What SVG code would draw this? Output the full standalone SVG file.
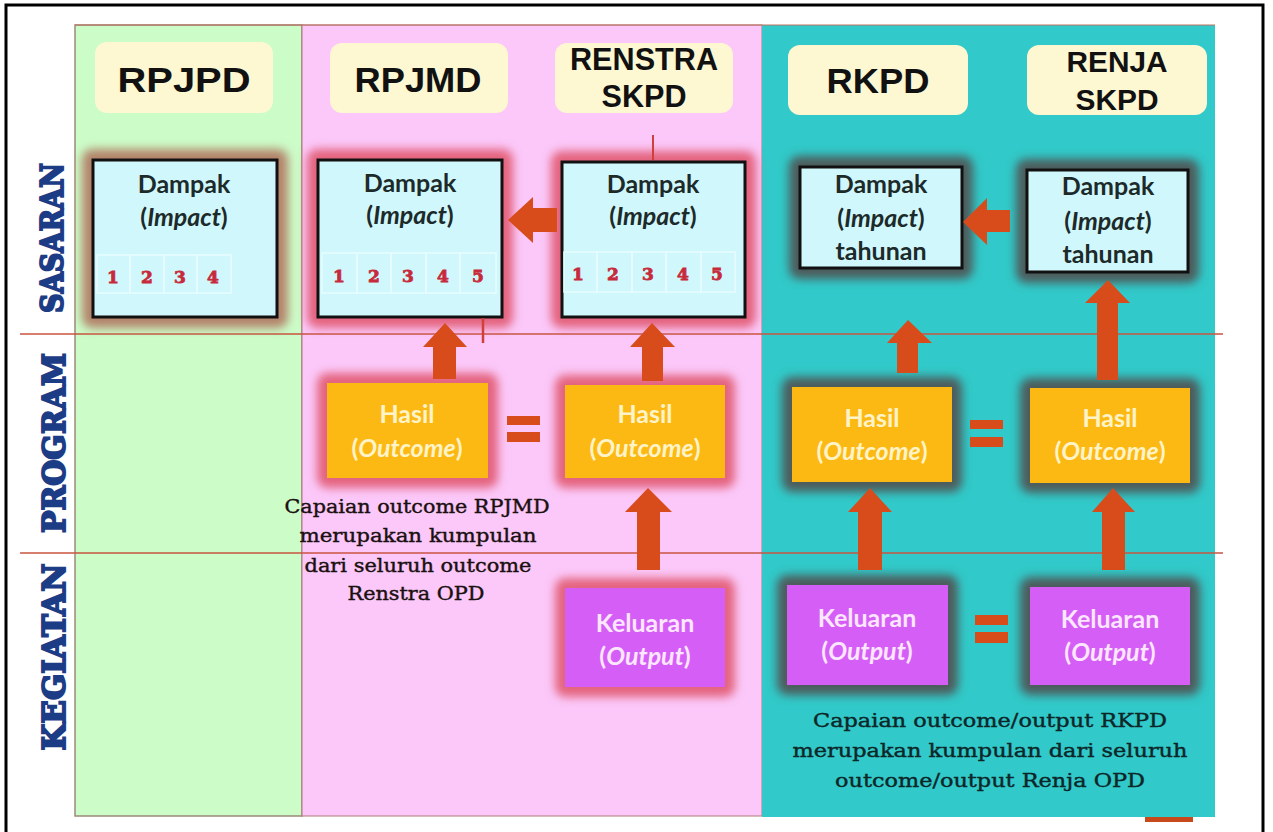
<svg xmlns="http://www.w3.org/2000/svg" width="1273" height="832" viewBox="0 0 1273 832">
<defs>
<style>
.hdr{fill:#fdf7d2}
.htx{font-family:"Liberation Sans",Arial,sans-serif;font-weight:bold;fill:#111;text-anchor:middle}
.row{font-family:"DejaVu Serif","Liberation Serif",serif;font-weight:bold;fill:#1d3c86;stroke:#1d3c86;stroke-width:2;text-anchor:middle}
.dmp{fill:#d0f8fc;stroke:#111;stroke-width:3}
.btx{font-family:Lato,"Open Sans",sans-serif;font-weight:bold;text-anchor:middle}
.dk{fill:#1d2a2a;font-size:25px}
.wt{fill:#fff3c8;font-size:25px}
.kt{fill:#fde6ff;font-size:25px}
.num{font-family:"DejaVu Serif",serif;font-weight:bold;font-size:17px;fill:#c72a3a;stroke:#c72a3a;stroke-width:0.8;text-anchor:middle}
.hsl{fill:#fdb913}
.kel{fill:#d55ff6}
.arr{fill:#d84c1c}
.cap{font-family:"DejaVu Serif",serif;font-size:19px;text-anchor:middle;stroke-width:0.4}
.gp{fill:#e4647e;filter:url(#blur)}
.gg{fill:#4d5b5b;filter:url(#blur)}
.gb{fill:#b3846a;filter:url(#blur)}
.cell{fill:none;stroke:#e6fcff;stroke-width:1.5}
</style>
<filter id="blur" x="-30%" y="-30%" width="160%" height="160%"><feGaussianBlur stdDeviation="5"/></filter>
</defs>
<rect width="1273" height="832" fill="#fff"/>
<rect x="6" y="5" width="1257" height="835" fill="none" stroke="#000" stroke-width="3"/>

<g id="panels">
<rect x="75" y="25" width="227" height="791" fill="#ccfcc8" stroke="#9a8a7a" stroke-width="1.5"/>
<rect x="302" y="25" width="460" height="791" fill="#fbc8f9" stroke="#b07a7a" stroke-width="1"/>
<rect x="762" y="25" width="453" height="792" fill="#31c9c9"/>
<line x1="75" y1="25" x2="1215" y2="25" stroke="#c07060" stroke-width="1"/>
<rect x="1145" y="817" width="48" height="5" fill="#c84a1c"/>
<line x1="20" y1="334" x2="1223" y2="334" stroke="#c8553f" stroke-width="1.3"/>
<line x1="20" y1="553" x2="1223" y2="553" stroke="#c8553f" stroke-width="1.3"/>
</g>

<g id="rowlabels">
<text class="row" font-size="32" textLength="150" lengthAdjust="spacingAndGlyphs" transform="translate(63,238) rotate(-90)">SASARAN</text>
<text class="row" font-size="32" textLength="180" lengthAdjust="spacingAndGlyphs" transform="translate(65,443) rotate(-90)">PROGRAM</text>
<text class="row" font-size="32" textLength="187" lengthAdjust="spacingAndGlyphs" transform="translate(65,657) rotate(-90)">KEGIATAN</text>
</g>

<g id="h-rpjpd"><rect class="hdr" x="95" y="42" width="178" height="71" rx="12"/><text class="htx" x="184" y="92" font-size="35" textLength="133" lengthAdjust="spacingAndGlyphs">RPJPD</text></g>
<g id="h-rpjmd"><rect class="hdr" x="330" y="43" width="178" height="70" rx="12"/><text class="htx" x="418" y="92" font-size="35" textLength="127" lengthAdjust="spacingAndGlyphs">RPJMD</text></g>
<g id="h-renstra"><rect class="hdr" x="555" y="43" width="178" height="70" rx="12"/><text class="htx" x="644" y="70" font-size="31" textLength="148" lengthAdjust="spacingAndGlyphs">RENSTRA</text><text class="htx" x="644" y="107" font-size="31" textLength="85" lengthAdjust="spacingAndGlyphs">SKPD</text></g>
<g id="h-rkpd"><rect class="hdr" x="788" y="45" width="180" height="70" rx="12"/><text class="htx" x="878" y="93" font-size="35" textLength="103" lengthAdjust="spacingAndGlyphs">RKPD</text></g>
<g id="h-renja"><rect class="hdr" x="1027" y="45" width="180" height="70" rx="12"/><text class="htx" x="1117" y="72" font-size="30" textLength="101" lengthAdjust="spacingAndGlyphs">RENJA</text><text class="htx" x="1117" y="110" font-size="30" textLength="83" lengthAdjust="spacingAndGlyphs">SKPD</text></g>

<g id="dampak-rpjpd">
<rect class="gb" x="82" y="149" width="206" height="179" rx="10"/>
<rect class="dmp" x="93" y="160" width="184" height="157"/>
<rect class="cell" x="97" y="255" width="33" height="38"/><rect class="cell" x="130" y="255" width="34" height="38"/><rect class="cell" x="164" y="255" width="33" height="38"/><rect class="cell" x="197" y="255" width="34" height="38"/>
<text class="btx dk" x="184" y="193">Dampak</text>
<text class="btx dk" x="184" y="226">(<tspan font-style="italic">Impact</tspan>)</text>
<text class="num" x="113" y="283">1</text><text class="num" x="147" y="283">2</text><text class="num" x="180" y="283">3</text><text class="num" x="213" y="283">4</text>
</g>

<g id="dampak-rpjmd">
<rect class="gp" x="307" y="149" width="206" height="179" rx="10"/>
<rect class="dmp" x="318" y="160" width="184" height="157"/>
<rect class="cell" x="322" y="253" width="35" height="40"/><rect class="cell" x="357" y="253" width="34" height="40"/><rect class="cell" x="391" y="253" width="35" height="40"/><rect class="cell" x="426" y="253" width="34" height="40"/><rect class="cell" x="460" y="253" width="36" height="40"/>
<text class="btx dk" x="410" y="192">Dampak</text>
<text class="btx dk" x="410" y="224">(<tspan font-style="italic">Impact</tspan>)</text>
<text class="num" x="339" y="282">1</text><text class="num" x="374" y="282">2</text><text class="num" x="408" y="282">3</text><text class="num" x="443" y="282">4</text><text class="num" x="478" y="282">5</text>
</g>

<g id="dampak-renstra">
<rect class="gp" x="551" y="151" width="205" height="177" rx="10"/>
<rect class="dmp" x="562" y="162" width="183" height="155"/>
<rect class="cell" x="564" y="252" width="33" height="40"/><rect class="cell" x="597" y="252" width="35" height="40"/><rect class="cell" x="632" y="252" width="34" height="40"/><rect class="cell" x="666" y="252" width="35" height="40"/><rect class="cell" x="701" y="252" width="34" height="40"/>
<text class="btx dk" x="653" y="193">Dampak</text>
<text class="btx dk" x="653" y="225">(<tspan font-style="italic">Impact</tspan>)</text>
<text class="num" x="578" y="280">1</text><text class="num" x="613" y="280">2</text><text class="num" x="648" y="280">3</text><text class="num" x="683" y="280">4</text><text class="num" x="717" y="280">5</text>
</g>

<g id="dampak-rkpd">
<rect class="gg" x="789" y="156" width="184" height="123" rx="10"/>
<rect class="dmp" x="800" y="167" width="162" height="101"/>
<text class="btx dk" x="881" y="193">Dampak</text>
<text class="btx dk" x="881" y="227">(<tspan font-style="italic">Impact</tspan>)</text>
<text class="btx dk" x="881" y="260">tahunan</text>
</g>

<g id="dampak-renja">
<rect class="gg" x="1016" y="159" width="183" height="124" rx="10"/>
<rect class="dmp" x="1027" y="170" width="161" height="102"/>
<text class="btx dk" x="1108" y="195">Dampak</text>
<text class="btx dk" x="1108" y="230">(<tspan font-style="italic">Impact</tspan>)</text>
<text class="btx dk" x="1108" y="263">tahunan</text>
</g>

<g id="hasil-rpjmd">
<rect class="gp" x="317" y="373" width="181" height="115" rx="10"/>
<rect class="hsl" x="327" y="383" width="161" height="95"/>
<text class="btx wt" x="407" y="423">Hasil</text>
<text class="btx wt" x="407" y="457">(<tspan font-style="italic">Outcome</tspan>)</text>
</g>
<g id="hasil-renstra">
<rect class="gp" x="555" y="375" width="180" height="113" rx="10"/>
<rect class="hsl" x="565" y="385" width="160" height="93"/>
<text class="btx wt" x="645" y="423">Hasil</text>
<text class="btx wt" x="645" y="457">(<tspan font-style="italic">Outcome</tspan>)</text>
</g>
<g id="hasil-rkpd">
<rect class="gg" x="782" y="377" width="180" height="115" rx="10"/>
<rect class="hsl" x="792" y="387" width="160" height="95"/>
<text class="btx wt" x="872" y="427">Hasil</text>
<text class="btx wt" x="872" y="460">(<tspan font-style="italic">Outcome</tspan>)</text>
</g>
<g id="hasil-renja">
<rect class="gg" x="1020" y="378" width="180" height="115" rx="10"/>
<rect class="hsl" x="1030" y="388" width="160" height="95"/>
<text class="btx wt" x="1110" y="427">Hasil</text>
<text class="btx wt" x="1110" y="460">(<tspan font-style="italic">Outcome</tspan>)</text>
</g>

<g id="keluaran-renstra">
<rect class="gp" x="555" y="578" width="180" height="119" rx="10"/>
<rect class="kel" x="565" y="588" width="160" height="99"/>
<text class="btx kt" x="645" y="632">Keluaran</text>
<text class="btx kt" x="645" y="665">(<tspan font-style="italic">Output</tspan>)</text>
</g>
<g id="keluaran-rkpd">
<rect class="gg" x="777" y="575" width="181" height="120" rx="10"/>
<rect class="kel" x="787" y="585" width="161" height="100"/>
<text class="btx kt" x="867" y="627">Keluaran</text>
<text class="btx kt" x="867" y="660">(<tspan font-style="italic">Output</tspan>)</text>
</g>
<g id="keluaran-renja">
<rect class="gg" x="1020" y="577" width="180" height="118" rx="10"/>
<rect class="kel" x="1030" y="587" width="160" height="98"/>
<text class="btx kt" x="1110" y="628">Keluaran</text>
<text class="btx kt" x="1110" y="661">(<tspan font-style="italic">Output</tspan>)</text>
</g>

<g id="connectors">
<line x1="653" y1="135" x2="653" y2="160" stroke="#d0403a" stroke-width="2"/>
<line x1="483" y1="318" x2="483" y2="343" stroke="#d0403a" stroke-width="2.5"/>
<polygon class="arr" points="508,220 533,197 533,208 557,208 557,232 533,232 533,243"/>
<polygon class="arr" points="963,222 987,198 987,210 1010,210 1010,232 987,232 987,245"/>
<polygon class="arr" points="445,323 467,347 456,347 456,379 433,379 433,347 423,347"/>
<polygon class="arr" points="652,323 675,347 663,347 663,381 642,381 642,347 630,347"/>
<polygon class="arr" points="648,488 672,512 660,512 660,570 637,570 637,512 625,512"/>
<polygon class="arr" points="908,320 932,343 918,343 918,373 897,373 897,343 887,343"/>
<polygon class="arr" points="1108,280 1130,303 1118,303 1118,380 1097,380 1097,303 1085,303"/>
<polygon class="arr" points="870,488 892,512 882,512 882,570 858,570 858,512 848,512"/>
<polygon class="arr" points="1113,488 1135,512 1125,512 1125,570 1102,570 1102,512 1092,512"/>
<rect class="arr" x="507" y="416" width="33" height="9"/><rect class="arr" x="507" y="432" width="33" height="10"/>
<rect class="arr" x="970" y="420" width="33" height="9"/><rect class="arr" x="970" y="437" width="33" height="10"/>
<rect class="arr" x="975" y="615" width="33" height="10"/><rect class="arr" x="975" y="632" width="33" height="11"/>
</g>

<g id="caption-rpjmd" class="cap" fill="#1a1010" stroke="#1a1010">
<text x="417" y="513" textLength="265" lengthAdjust="spacingAndGlyphs">Capaian outcome RPJMD</text>
<text x="418" y="542" textLength="237" lengthAdjust="spacingAndGlyphs">merupakan kumpulan</text>
<text x="418" y="572" textLength="227" lengthAdjust="spacingAndGlyphs">dari seluruh outcome</text>
<text x="416" y="600" textLength="137" lengthAdjust="spacingAndGlyphs">Renstra OPD</text>
</g>
<g id="caption-rkpd" class="cap" fill="#0d2628" stroke="#0d2628">
<text x="990" y="727" textLength="354" lengthAdjust="spacingAndGlyphs">Capaian outcome/output RKPD</text>
<text x="990" y="757" textLength="395" lengthAdjust="spacingAndGlyphs">merupakan kumpulan dari seluruh</text>
<text x="990" y="787" textLength="310" lengthAdjust="spacingAndGlyphs">outcome/output Renja OPD</text>
</g>
</svg>
